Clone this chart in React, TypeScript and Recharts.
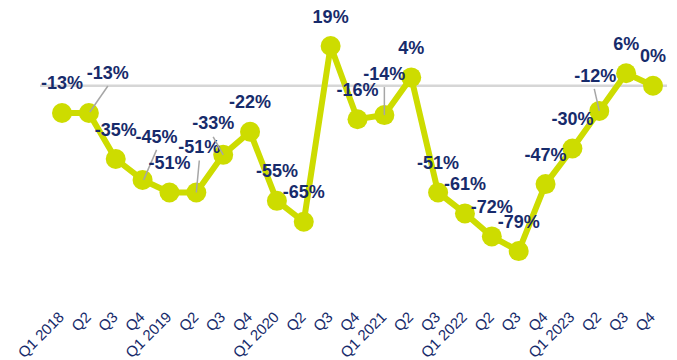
import React from 'react';
import { LineChart, Line, XAxis, YAxis, ReferenceLine, LabelList } from 'recharts';

// quarterly change, % (Q4 2021 is missing in the source chart)
const quarters = [
  'Q1 2018', 'Q2', 'Q3', 'Q4',
  'Q1 2019', 'Q2', 'Q3', 'Q4',
  'Q1 2020', 'Q2', 'Q3', 'Q4',
  'Q1 2021', 'Q2', 'Q3',
  'Q1 2022', 'Q2', 'Q3', 'Q4',
  'Q1 2023', 'Q2', 'Q3', 'Q4',
];
const changes = [-13, -13, -35, -45, -51, -51, -33, -22, -55, -65, 19, -16, -14, 4, -51, -61, -72, -79, -47, -30, -12, 6, 0];

const data = changes.map((v, i) => ({ i, v }));

const LIME = '#CDDC00';
const NAVY = '#172B6B';

// label placement relative to its point: [dx, dy] of the text centre, optional leader line
const labelShift: Record<number, { dx: number; dy: number; leader?: [number, number, number, number] }> = {
  1: { dx: 19, dy: -40, leader: [1, -1, 19, -27] },
  3: { dx: 14, dy: -43, leader: [1, 0, 14, -30] },
  5: { dx: 3, dy: -46, leader: [0, 0, 3, -32] },
  6: { dx: -10, dy: -32, leader: [0, 0, -10, -18] },
  12: { dx: 0, dy: -42, leader: [0, 0, 0, -28] },
  20: { dx: -4, dy: -35, leader: [0, 0, -5, -22] },
};

const ValueLabel = (props: any) => {
  const { x, y, value, index } = props;
  const s = labelShift[index] || { dx: 0, dy: -30 };
  return (
    <g>
      {s.leader && (
        <line
          x1={x + s.leader[0]}
          y1={y + s.leader[1]}
          x2={x + s.leader[2]}
          y2={y + s.leader[3]}
          stroke="#A6A6A6"
          strokeWidth={1.5}
        />
      )}
      <text
        x={x + s.dx}
        y={y + s.dy + 6.5}
        textAnchor="middle"
        fill={NAVY}
        fontSize={18}
        fontWeight="bold"
        fontFamily="'Liberation Sans', Arial, sans-serif"
      >
        {`${value}%`}
      </text>
    </g>
  );
};

const QuarterTick = (props: any) => {
  const { x, y, payload } = props;
  return (
    <text
      transform={`translate(${x + 3},${y + 15}) rotate(-45)`}
      textAnchor="end"
      fill={NAVY}
      fontSize={15}
      fontFamily="'Liberation Sans', Arial, sans-serif"
    >
      {quarters[payload.value]}
    </text>
  );
};

export default function App() {
  return (
    <div style={{ position: 'absolute', left: 0, top: 0, background: '#fff' }}>
      <LineChart width={677} height={360} data={data} margin={{ top: 23, right: 10, left: 40, bottom: 0 }}>
        <XAxis
          dataKey="i"
          type="category"
          height={65}
          axisLine={false}
          tickLine={false}
          interval={0}
          padding={{ left: 22, right: 14 }}
          tick={<QuarterTick />}
        />
        <YAxis hide domain={[-100, 30]} />
        <ReferenceLine y={0} stroke="#D6D6D6" strokeWidth={2.5} />
        <Line
          type="linear"
          dataKey="v"
          stroke={LIME}
          strokeWidth={6}
          dot={{ r: 10, fill: LIME, stroke: LIME, strokeWidth: 0 }}
          activeDot={false}
          isAnimationActive={false}
        >
          <LabelList dataKey="v" content={<ValueLabel />} />
        </Line>
      </LineChart>
    </div>
  );
}
